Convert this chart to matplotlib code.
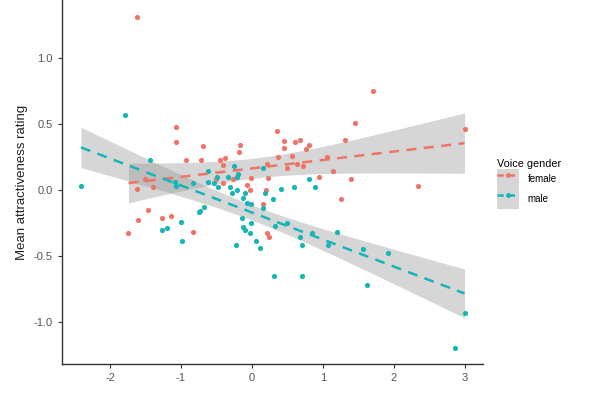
import matplotlib.pyplot as plt
import numpy as np
from matplotlib.patches import Patch
from matplotlib.lines import Line2D
from matplotlib.legend_handler import HandlerTuple

plt.rcParams["axes.unicode_minus"] = False
plt.rcParams["font.family"] = ["Liberation Sans", "DejaVu Sans"]

female_x = [-1.62, 1.71, 1.46, 3.0, 1.31, 1.14, 0.95, 1.40, 2.34, 1.06, 0.68, 0.81, 0.76, 0.72,
            -1.07, -1.07, -0.69, -0.93, -0.71, -0.45, -0.38, -0.17, -0.18, 0.35, 0.45, 0.45,
            0.61, 0.37, 0.56, -1.62, -1.40, -1.50, -0.41, 0.23, -0.01, -0.07, -0.51, -0.41,
            0.21, 0.49, 0.64, -1.74, -1.61, -1.47, -1.26, -1.14, -0.83, -0.03, 0.16, 0.21,
            0.20, 0.24, 1.26, -0.27]
female_y = [1.31, 0.75, 0.51, 0.46, 0.38, 0.14, 0.10, 0.08, 0.03, 0.25, 0.38, 0.34, 0.31, 0.18,
            0.48, 0.36, 0.33, 0.23, 0.23, 0.23, 0.24, 0.34, 0.29, 0.45, 0.37, 0.32,
            0.36, 0.25, 0.26, 0.01, 0.02, 0.08, 0.19, 0.09, 0.09, 0.04, 0.08, 0.05,
            0.20, 0.17, 0.20, -0.33, -0.23, -0.15, -0.21, -0.20, -0.32, 0.00, -0.11, -0.33,
            0.00, -0.36, -0.07, 0.08]

male_x = [-2.41, -1.79, -1.44, -1.09, -1.07, -0.83, -0.62, -0.62, -0.54, -0.48, -0.49, -0.34,
          -0.25, -0.20, -0.21, -0.31, -0.28, -0.21, -0.10, 0.16, 0.18, 0.41, 0.59, 0.30,
          0.81, 0.89, -1.00, -1.26, -1.19, -0.99, -0.73, -0.68, -0.75, -0.13, -0.07, -0.01,
          -0.14, -0.13, -0.10, -0.01, -0.03, -0.23, 0.06, 0.11, 0.16, 0.49, 0.32, 0.68,
          0.71, 0.31, 0.71, 1.20, 0.85, 1.07, 1.57, 1.92, 1.62, 3.00, 2.87]
male_y = [0.03, 0.57, 0.23, 0.06, 0.03, 0.05, 0.14, 0.06, 0.05, 0.02, 0.10, 0.10,
          0.18, 0.12, 0.10, 0.02, -0.02, 0.00, -0.02, 0.17, -0.02, 0.01, 0.02, -0.07,
          0.08, 0.02, -0.24, -0.30, -0.29, -0.39, -0.16, -0.13, -0.17, -0.06, -0.10, -0.11,
          -0.21, -0.28, -0.30, -0.25, -0.33, -0.42, -0.39, -0.44, -0.14, -0.25, -0.27, -0.36,
          -0.42, -0.65, -0.65, -0.32, -0.33, -0.42, -0.45, -0.48, -0.72, -0.93, -1.20]

groups = ["female", "male"]
colors = {"female": "#EE7468", "male": "#15B5B8"}
data = {"female": (female_x, female_y), "male": (male_x, male_y)}


def lm_fit(x, y, n=80):
    # linear fit with 95% confidence band, like geom_smooth(method="lm")
    x = np.asarray(x)
    y = np.asarray(y)
    b, a = np.polyfit(x, y, 1)
    xs = np.linspace(x.min(), x.max(), n)
    fit = a + b * xs
    resid = y - (a + b * x)
    s = np.sqrt(np.sum(resid ** 2) / (len(x) - 2))
    se = s * np.sqrt(1 / len(x) + (xs - x.mean()) ** 2 / np.sum((x - x.mean()) ** 2))
    return xs, fit, 2.0 * se


fig = plt.figure(figsize=(6, 3.97), dpi=100)
ax = fig.add_axes([0.103, 0.083, 0.702, 0.917])

for g in groups:
    x, y = data[g]
    xs, fit, ci = lm_fit(x, y)
    ax.fill_between(xs, fit - ci, fit + ci, color="#999999", alpha=0.4, lw=0, zorder=1)
    ax.scatter(x, y, s=14, color=colors[g], zorder=2, lw=0)
    ax.plot(xs, fit, color=colors[g], lw=1.8, dashes=(4, 3), zorder=3)

ax.set_xlim(-2.68, 3.26)
ax.set_ylim(-1.32, 1.44)
ax.set_xticks([-2, -1, 0, 1, 2, 3])
ax.set_yticks([-1.0, -0.5, 0.0, 0.5, 1.0])
ax.set_yticklabels(["-1.0", "-0.5", "0.0", "0.5", "1.0"])
for side in ["top", "right"]:
    ax.spines[side].set_visible(False)
for side in ["left", "bottom"]:
    ax.spines[side].set_color("#333333")
    ax.spines[side].set_linewidth(1.0)
ax.tick_params(colors="#333333", labelcolor="#555555", labelsize=8, length=3)
ax.set_ylabel("Mean attractiveness rating", fontsize=9.5, color="#222222")

handles = []
for g in groups:
    bg = Patch(facecolor="#d6d6d6", edgecolor="none")
    ln = Line2D([], [], color=colors[g], lw=1.8, dashes=(2.5, 2), marker="o",
                markersize=3.5, markeredgewidth=0)
    handles.append((bg, ln))
leg = fig.legend(handles, groups, title="Voice gender", loc="upper left",
                 bbox_to_anchor=(0.829, 0.6), frameon=False, fontsize=7,
                 title_fontsize=7.8, handler_map={tuple: HandlerTuple(ndivide=1, pad=0)},
                 handlelength=2.2, handleheight=2.8, labelspacing=0.0, handletextpad=0.9,
                 borderaxespad=0, borderpad=0)
leg._legend_box.align = "left"

fig.savefig("out.png", dpi=100)
